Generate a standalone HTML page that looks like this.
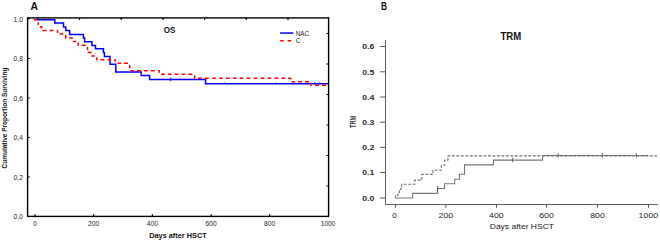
<!DOCTYPE html>
<html><head><meta charset="utf-8">
<style>
html,body{margin:0;padding:0;background:#fff;}
body{width:660px;height:241px;overflow:hidden;}
svg{display:block;}
text{font-family:"Liberation Sans",sans-serif;}
</style></head>
<body>
<svg width="660" height="241" viewBox="0 0 660 241">
<rect x="0" y="0" width="660" height="241" fill="#fff"/>
<!-- ============ PANEL A ============ -->
<text x="30.6" y="9.7" font-size="10.6" font-weight="bold" fill="#111" textLength="7.5" lengthAdjust="spacingAndGlyphs">A</text>
<text x="163.7" y="33.2" font-size="9.9" font-weight="bold" fill="#111" textLength="11.6" lengthAdjust="spacingAndGlyphs">OS</text>
<!-- frame -->
<rect x="27.6" y="17.9" width="301" height="198.5" fill="none" stroke="#000" stroke-width="1.4"/>
<g stroke="#000" stroke-width="1.2">
<!-- left ticks -->
<path d="M27.6,18.6H29.8M27.6,58.5H29.8M27.6,98H29.8M27.6,137.5H29.8M27.6,177H29.8"/>
<!-- bottom ticks -->
<path d="M35,216.4V214.3M93.7,216.4V214.3M152.4,216.4V214.3M211.2,216.4V214.3M269.7,216.4V214.3"/>
<!-- top ticks -->
<path d="M37.8,17.9V20M79.5,17.9V20M121.2,17.9V20M162.9,17.9V20M204.6,17.9V20M246.3,17.9V20M288,17.9V20"/>
<!-- right ticks -->
<path d="M328.6,33.5H326.5M328.6,64H326.5M328.6,94.5H326.5M328.6,125H326.5M328.6,155.5H326.5M328.6,186H326.5"/>
</g>
<!-- y labels -->
<g font-size="6.7" fill="#222" text-anchor="end">
<text x="22.9" y="22">1,0</text>
<text x="22.9" y="61.4">0,8</text>
<text x="22.9" y="101">0,6</text>
<text x="22.9" y="140.3">0,4</text>
<text x="22.9" y="179.9">0,2</text>
<text x="22.9" y="219.3">0,0</text>
</g>
<!-- x labels -->
<g font-size="6.4" fill="#222" text-anchor="middle">
<text x="35" y="225.8">0</text>
<text x="93.7" y="225.8" textLength="11.2" lengthAdjust="spacingAndGlyphs">200</text>
<text x="152.4" y="225.8" textLength="11.2" lengthAdjust="spacingAndGlyphs">400</text>
<text x="211.2" y="225.8" textLength="11.2" lengthAdjust="spacingAndGlyphs">600</text>
<text x="269.7" y="225.8" textLength="11.2" lengthAdjust="spacingAndGlyphs">800</text>
<text x="328" y="225.8" textLength="14.4" lengthAdjust="spacingAndGlyphs">1000</text>
</g>
<text x="149.2" y="237.9" font-size="6.6" font-weight="bold" fill="#111" textLength="57.5" lengthAdjust="spacingAndGlyphs">Days after HSCT</text>
<text transform="translate(7.2,118) rotate(-90)" x="0" y="0" font-size="6.4" font-weight="bold" fill="#111" text-anchor="middle" textLength="100.8" lengthAdjust="spacingAndGlyphs">Cumulative Proportion Surviving</text>
<!-- legend -->
<path d="M280.1,33.05H293.4" stroke="#0000ff" stroke-width="1.5"/>
<text x="295.75" y="35.8" font-size="6.9" fill="#222" textLength="13.3" lengthAdjust="spacingAndGlyphs">NAC</text>
<path d="M280.1,40.8H283.7M287.6,40.8H291.2" stroke="#ff0000" stroke-width="1.5"/>
<text x="295.75" y="43.2" font-size="6.9" fill="#222" textLength="4.65" lengthAdjust="spacingAndGlyphs">C</text>
<!-- curves -->
<path d="M37,19.7H54.8V23H63.5V27H65.8V30.4H69.6V34.5H83.4V38.1H84.6V41.8H91.9V45.6H95.5V48.8H103.4V52.6H104.4V56.4H110V64.2H115.8V72.1H141.2V75.6H149.6V79.4H205.5V83.7H328" fill="none" stroke="#0000ff" stroke-width="1.5"/>
<g stroke="#0000ff">
<path d="M170.6,77.7V81" stroke-width="1.2"/>
<path d="M224.4,82V83.7M275.5,82V83.7M314.7,81.8V83.7M319.1,81.8V83.7" stroke-width="0.8" stroke-opacity="0.7"/>
</g>
<path d="M33.75,19.7H37.75M38.2,22.3V25M39.8,26.8H41.5V28.4M42.45,30.5H46.55M49.55,30.5H53.45M56.9,30.5H57.5V33M59.65,34.1H63.35M65.8,34.7V37.9H66.2M69.15,37.9H72.95M72.75,41.6H76.15M78.2,42.4V45.2H78.6M81.65,45.2H85.75M87.5,46.9V50M87.65,52.4H91.85M91.35,56.1H94.85M96.9,57.3V59.7H97.4M100.35,59.7H104.55M107.65,59.7H111.35M114.3,59.7H115.1V61.8M117.35,63.2H121.35M123.85,63.2H128.05M129.75,65V68.1M130.55,70.7H134.25M137.05,70.7H140.95M143.95,70.7H147.75M150.75,70.7H154.75M158.2,70.7H159.2V72.7M160.95,74.2H164.85M167.75,74.2H171.55M174.65,74.2H178.35M181.45,74.2H185.25M188.35,74.2H192.35M194.7,75.5V78H195M198.15,78.2H201.85M205.05,78.2H208.75M212.15,78.2H215.85M219.15,78.2H222.85M225.95,78.2H229.65M232.85,78.2H236.55M239.75,78.2H243.45M246.65,78.2H250.35M253.55,78.2H257.25M260.65,78.2H264.35M267.65,78.2H271.35M274.65,78.2H278.35M281.55,78.2H285.25M288.2,78.2H290.7V79.5M291.55,81.8H295.25M298.15,81.8H302.05M305.05,81.8H308.95M311,82.7V85.4H311.5M315.15,85.3H319.05M321.95,85.3H326.05" fill="none" stroke="#ff0000" stroke-width="1.5"/>

<!-- ============ PANEL B ============ -->
<text x="381.1" y="9.5" font-size="10.1" font-weight="bold" fill="#111" textLength="6" lengthAdjust="spacingAndGlyphs">B</text>
<text x="500.4" y="39.8" font-size="10" font-weight="bold" fill="#111" textLength="20.8" lengthAdjust="spacingAndGlyphs">TRM</text>
<g stroke="#5a5a5a" stroke-width="1" fill="none">
<path d="M385.5,40V204.5H657.6"/>
<path d="M380,46.5H385.4M380,71.8H385.4M380,97H385.4M380,122.2H385.4M380,147.3H385.4M380,172.5H385.4M380,198.1H385.4"/>
<path d="M395.4,204.5V207.8M445.9,204.5V207.8M496.5,204.5V207.8M546.5,204.5V207.8M597.5,204.5V207.8M648.5,204.5V207.8"/>
</g>
<g font-size="6.6" fill="#2a2a2a" font-weight="bold" text-anchor="end">
<text x="374.2" y="49.4" textLength="12" lengthAdjust="spacingAndGlyphs">0.6</text>
<text x="374.2" y="74.7" textLength="12" lengthAdjust="spacingAndGlyphs">0.5</text>
<text x="374.2" y="99.9" textLength="12" lengthAdjust="spacingAndGlyphs">0.4</text>
<text x="374.2" y="125.1" textLength="12" lengthAdjust="spacingAndGlyphs">0.3</text>
<text x="374.2" y="150.2" textLength="12" lengthAdjust="spacingAndGlyphs">0.2</text>
<text x="374.2" y="175.4" textLength="12" lengthAdjust="spacingAndGlyphs">0.1</text>
<text x="374.2" y="201.0" textLength="12" lengthAdjust="spacingAndGlyphs">0.0</text>
</g>
<g font-size="6.7" fill="#222" text-anchor="middle">
<text x="394.6" y="217.5" textLength="4.5" lengthAdjust="spacingAndGlyphs">0</text>
<text x="445.9" y="217.5" textLength="14.7" lengthAdjust="spacingAndGlyphs">200</text>
<text x="496.4" y="217.5" textLength="14.7" lengthAdjust="spacingAndGlyphs">400</text>
<text x="546.5" y="217.5" textLength="14.7" lengthAdjust="spacingAndGlyphs">600</text>
<text x="597.5" y="217.5" textLength="14.7" lengthAdjust="spacingAndGlyphs">800</text>
<text x="648.4" y="217.5" textLength="19.6" lengthAdjust="spacingAndGlyphs">1000</text>
</g>
<text x="489.75" y="228.75" font-size="7.3" fill="#1a1a1a" textLength="64.25" lengthAdjust="spacingAndGlyphs">Days after HSCT</text>
<text transform="translate(356.1,121.8) rotate(-90)" x="0" y="0" font-size="8.6" fill="#444" font-weight="bold" text-anchor="middle" textLength="12.2" lengthAdjust="spacingAndGlyphs">TRM</text>
<!-- curves B -->
<path d="M395.3,198H412.6V193.4H437.6V188.5H444.5V183.8H454.7V179.2H459.5V174.2H464.5V164.9H493.5V160.1H542.6V155.5H648.4" fill="none" stroke="#777" stroke-width="1.1"/>
<g stroke="#555" stroke-width="0.9">
<path d="M437.6,186V191M512.5,157.9V162.2M558.3,153.2V157.6M602.4,153.2V157.6M636.4,153.2V157.6"/>
</g>
<path d="M395.4,197.9V196H396.6V195.4H398V192.5H399.5V189.5H401V186.6H401.7V184.2H414.8V180.1H421.8V174.4H433V170.2H441.4V165.3H444.6V160H448V155.9H657" fill="none" stroke="#707070" stroke-width="1.1" stroke-dasharray="2.9 1.6" stroke-dashoffset="0.5"/>
</svg>
</body></html>
